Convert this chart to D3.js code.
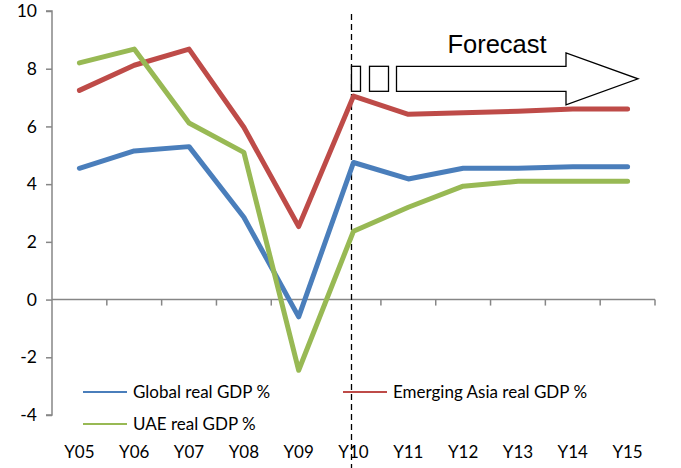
<!DOCTYPE html>
<html>
<head>
<meta charset="utf-8">
<script src="https://cdn.jsdelivr.net/npm/d3@7/dist/d3.min.js"></script>
<style>
  html, body { margin: 0; padding: 0; background: #fff; }
  svg { display: block; }
</style>
</head>
<body>
<svg id="chart" width="681" height="468"></svg>
<script>
// Real GDP growth, actual and forecast
const years = ["Y05","Y06","Y07","Y08","Y09","Y10","Y11","Y12","Y13","Y14","Y15"];
const globalGdp   = [4.55, 5.15, 5.3, 2.85, -0.6, 4.75, 4.18, 4.55, 4.55, 4.6, 4.6];
const asiaGdp     = [7.25, 8.12, 8.68, 5.97, 2.53, 7.05, 6.42, 6.47, 6.53, 6.6, 6.6];
const uaeGdp      = [8.2, 8.68, 6.12, 5.1, -2.45, 2.37, 3.2, 3.93, 4.1, 4.1, 4.1];
const seriesNames = ["Global real GDP %", "Emerging Asia real GDP %", "UAE real GDP %"];
const seriesColors = ["#4a7ebb", "#be4b48", "#98b954"];
const yTicks = [-4, -2, 0, 2, 4, 6, 8, 10];
const forecastStart = "Y10";
const forecastLabel = "Forecast";

const series = [globalGdp, asiaGdp, uaeGdp].map((values, i) => ({
  name: seriesNames[i], color: seriesColors[i], values
}));

const labelFont = "Lato, 'Open Sans', sans-serif";
const svg = d3.select("#chart");
const plotLeft = 52, plotRight = 655, plotTop = 11, plotBottom = 415;

const x = d3.scaleBand().domain(years).range([plotLeft, plotRight]);
const y = d3.scaleLinear().domain([-4, 10]).range([plotBottom, plotTop]);
const xc = d => x(d) + x.bandwidth() / 2;

const axisColor = "#868686";

// Value axis
const yAxis = svg.append("g")
  .attr("transform", `translate(${plotLeft},0)`)
  .call(d3.axisLeft(y).tickValues(yTicks).tickSize(6).tickPadding(9).tickFormat(d => String(d)));
yAxis.selectAll("path, line").attr("stroke", axisColor).attr("stroke-width", 1.5);
yAxis.select("path").attr("d", `M-6,${y(10)}H0V${y(-4)}H-6`);
yAxis.selectAll("text")
  .attr("font-size", 17.5)
  .attr("font-family", labelFont)
  .attr("fill", "#000");

// Category axis crossing at zero, tick marks at band edges
const xAxisG = svg.append("g");
xAxisG.append("line")
  .attr("x1", plotLeft).attr("x2", plotRight)
  .attr("y1", y(0)).attr("y2", y(0))
  .attr("stroke", axisColor).attr("stroke-width", 1.5);
xAxisG.selectAll("line.tick").data(years)
  .join("line")
  .attr("class", "tick")
  .attr("x1", (d, i) => plotLeft + x.step() * (i + 1))
  .attr("x2", (d, i) => plotLeft + x.step() * (i + 1))
  .attr("y1", y(0)).attr("y2", y(0) + 6)
  .attr("stroke", axisColor).attr("stroke-width", 1.5);

// Category labels below the plot
svg.append("g").selectAll("text").data(years).join("text")
  .attr("x", d => xc(d))
  .attr("y", 458)
  .attr("text-anchor", "middle")
  .attr("font-family", labelFont)
  .attr("font-size", 17)
  .attr("fill", "#000")
  .text(d => d);

// Forecast divider
const divX = xc(forecastStart) - 2;
svg.append("line")
  .attr("x1", divX).attr("x2", divX)
  .attr("y1", 14).attr("y2", 468)
  .attr("stroke", "#000").attr("stroke-width", 1.3)
  .attr("stroke-dasharray", "6,4");

// Data lines
const line = d3.line().x((d, i) => xc(years[i])).y(d => y(d));
svg.append("g").selectAll("path").data(series).join("path")
  .attr("d", d => line(d.values))
  .attr("fill", "none")
  .attr("stroke", d => d.color)
  .attr("stroke-width", 5)
  .attr("stroke-linejoin", "round")
  .attr("stroke-linecap", "round");

// Forecast arrow
const arrowY = y(7.65), arrowH = 25, headH = 52;
const arrow = svg.append("g").attr("fill", "#fff").attr("stroke", "#000").attr("stroke-width", 1.3);
arrow.append("rect").attr("x", divX).attr("y", arrowY - arrowH / 2).attr("width", 9).attr("height", arrowH);
arrow.append("rect").attr("x", divX + 18).attr("y", arrowY - arrowH / 2).attr("width", 19).attr("height", arrowH);
const bx = divX + 45, hx = 566, tip = 638;
arrow.append("path").attr("d",
  `M${bx},${arrowY - arrowH / 2}H${hx}V${arrowY - headH / 2}L${tip},${arrowY}L${hx},${arrowY + headH / 2}V${arrowY + arrowH / 2}H${bx}Z`);
svg.append("text")
  .attr("x", 497).attr("y", 53)
  .attr("text-anchor", "middle")
  .attr("font-family", "'Liberation Sans', Arial, sans-serif")
  .attr("font-size", 25.5)
  .attr("fill", "#000")
  .text(forecastLabel);

// Legend
const legendPos = [[83, 392], [343, 392], [83, 424]];
const legend = svg.append("g").selectAll("g").data(series).join("g")
  .attr("transform", (d, i) => `translate(${legendPos[i][0]},${legendPos[i][1]})`);
legend.append("line")
  .attr("x1", 0).attr("x2", 44).attr("y1", 0).attr("y2", 0)
  .attr("stroke", d => d.color).attr("stroke-width", 2);
legend.append("text")
  .attr("x", 50).attr("y", 6)
  .attr("font-family", labelFont)
  .attr("font-size", 17)
  .attr("fill", "#000")
  .text(d => d.name);
</script>
</body>
</html>
